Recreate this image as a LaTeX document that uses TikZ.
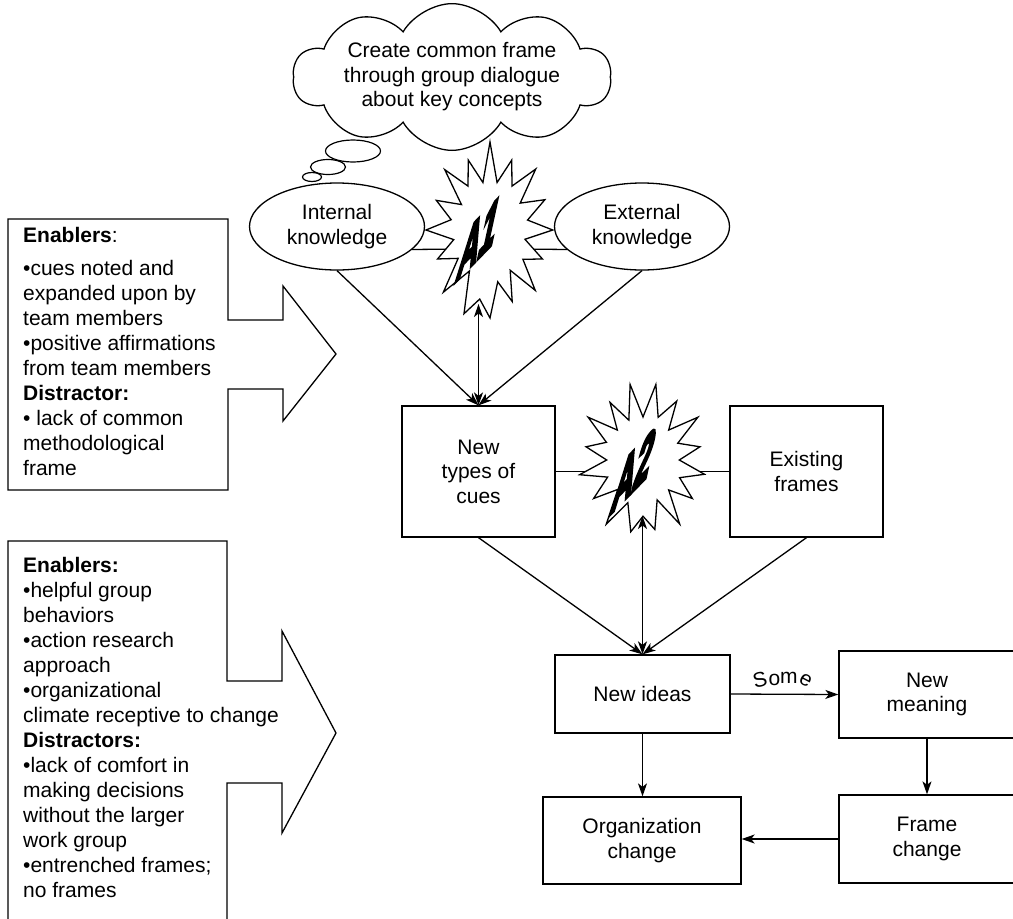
\documentclass[tikz,border=0pt]{standalone}
\usepackage{fontspec}
\usepackage{graphicx}
\setmainfont{Liberation Sans}
\newfontfamily\heavyfont[FakeBold=7]{Liberation Sans}
\usetikzlibrary{shapes.geometric,shapes.symbols,arrows.meta}
\begin{document}
\begin{tikzpicture}[x=1pt,y=-1pt,
  every node/.style={font=\fontsize{21}{24.5}\selectfont},
  box/.style={draw, line width=1.3pt, fill=white, align=center, inner sep=0pt},
  oval/.style={draw, line width=1.3pt, ellipse, fill=white, align=center, minimum width=175pt, minimum height=87pt, inner sep=0pt},
  bubble/.style={draw, line width=1.2pt, ellipse, fill=white, inner sep=0pt},
  line/.style={line width=1.3pt},
  arr/.style={line width=1.3pt, -{Stealth[length=13pt,width=9pt,inset=3.5pt]}},
  darr/.style={line width=1.3pt, {Stealth[length=13pt,width=9pt,inset=3.5pt]}-{Stealth[length=13pt,width=9pt,inset=3.5pt]}},
  burst/.style={draw, line width=1.3pt, fill=white, line join=miter},
  burstlabel/.style={font=\heavyfont\bfseries\fontsize{32}{32}\selectfont, cm={0.92,0.95,0.5,2.3,(0,0)}, inner sep=0pt},
  callout/.style={draw, line width=1.3pt, fill=white},
  calltext/.style={anchor=base west, align=left, inner sep=0pt, font=\fontsize{21}{25}\selectfont}
]
\clip (0,0) rectangle (1013,919);
\fill[white] (0,0) rectangle (1013,919);

% cloud
\node[cloud, draw, line width=1.3pt, fill=white, cloud puffs=10, cloud puff arc=120, cloud ignores aspect, minimum width=318pt, minimum height=143pt, align=center, inner sep=0pt] (cloud) at (452,77) {Create common frame\\through group dialogue\\about key concepts};
\node[bubble, minimum width=55pt, minimum height=22pt] (b1) at (353,151) {};
\node[bubble, minimum width=35pt, minimum height=15pt] (b2) at (328,167) {};
\node[bubble, minimum width=19pt, minimum height=9pt] (b3) at (312,177) {};

% ellipses
\node[oval] (Int) at (337,226.5) {Internal\\knowledge};
\node[oval] (Ext) at (642,226.5) {External\\knowledge};

% boxes
\node[box, minimum width=153pt, minimum height=131pt] (NT) at (478.5,471.5) {New\\types of\\cues};
\node[box, minimum width=153pt, minimum height=131pt] (EF) at (806.5,471.5) {Existing\\frames};
\node[box, minimum width=175pt, minimum height=78pt] (NI) at (642.5,694) {New ideas};
\node[box, minimum width=176pt, minimum height=87pt] (NM) at (927,694.5) {New\\meaning};
\node[box, minimum width=176pt, minimum height=88pt] (FC) at (927,839) {Frame\\change};
\node[box, minimum width=198pt, minimum height=87pt] (OC) at (642,840.5) {Organization\\change};

% connectors partly hidden by the bursts
\coordinate (A1l) at (462,249);
\coordinate (A1r) at (520,249);
\coordinate (A2l) at (610,471.5);
\coordinate (A2r) at (680,471.5);
\draw[line] (Int.-17) -- (A1l);
\draw[line] (A1r) -- (Ext.197);
\draw[line] (NT.east) -- (A2l);
\draw[line] (A2r) -- (EF.west);

\draw[arr] (Int.south) -- (NT.north);
\draw[arr] (Ext.south) -- (NT.north);
\draw[arr] (NT.south) -- (NI.north);
\draw[arr] (EF.south) -- (NI.north);
\draw[arr] (NI.east) -- node[above=5pt, inner sep=0pt, pos=0.48] (some) {\rotatebox[origin=c]{14}{S}\raisebox{1.5pt}{o}\raisebox{3pt}{m}\raisebox{1pt}{\rotatebox[origin=c]{-28}{e}}} (NM.west);
\draw[arr] (NI.south) -- (NI.south |- OC.north);
\draw[arr] (NM.south) -- (FC.north);
\draw[arr] (FC.west) -- (FC.west -| OC.east);

% bursts
\begin{scope}[shift={(490,230)}]
\draw[burst] (90:88pt) \foreach \a/\f [evaluate=\f as \rx using \f*66, evaluate=\f as \ry using \f*88] in
 {101.25/0.55,112.5/0.86,123.75/0.6,135/0.97,146.25/0.52,157.5/0.88,168.75/0.6,180/0.97,
  191.25/0.56,202.5/0.86,213.75/0.58,225/1.0,236.25/0.56,247.5/1.03,258.75/0.8,270/1.0,
  281.25/0.6,292.5/0.88,303.75/0.55,315/0.97,326.25/0.6,337.5/0.86,348.75/0.54,360/0.95,
  371.25/0.58,382.5/0.9,393.75/0.55,405/0.98,416.25/0.6,427.5/0.86,438.75/0.55}
 { -- (\a:\rx pt and \ry pt) } -- cycle;
\end{scope}
\begin{scope}[shift={(643,460)}]
\draw[burst] (90:37pt and 43pt) \foreach \a/\f [evaluate=\f as \rx using \f*66, evaluate=\f as \ry using \f*77] in
 {101.25/1.0,112.5/0.56,123.75/0.9,135/0.55,146.25/1.0,157.5/0.6,168.75/0.88,180/0.55,
  191.25/0.98,202.5/0.58,213.75/0.9,225/0.54,236.25/1.0,247.5/0.6,258.75/0.95,270/0.73,
  281.25/0.92,292.5/0.56,303.75/1.0,315/0.55,326.25/0.9,337.5/0.6,348.75/0.95,360/0.55,
  371.25/0.88,382.5/0.57,393.75/1.0,405/0.55,416.25/0.92,427.5/0.6,438.75/1.0}
 { -- (\a:\rx pt and \ry pt) } -- cycle;
\end{scope}
\node[burstlabel] (A1t) at (479,238) {A1};
\node[burstlabel] (A2t) at (634,470) {A2};

\coordinate (A1b) at (478.5,304);
\coordinate (A2b) at (642.5,516);
\draw[darr] (NT.north) -- (A1b);
\draw[darr] (NI.north) -- (A2b);

% callouts
\draw[callout] (8,219) -- (228,219) -- (228,320) -- (283,320) -- (283,286) -- (336,354) -- (283,421) -- (283,389) -- (228,389) -- (228,490) -- (8,490) -- cycle;
\node[calltext] (c1) at (23,475) {\textbf{Enablers}:\\[8pt]•cues noted and\\expanded upon by\\team members\\•positive affirmations\\from team members\\\textbf{Distractor:}\\• lack of common\\methodological\\frame};

\draw[callout] (8,930) -- (8,541) -- (227,541) -- (227,681) -- (282,681) -- (282,631) -- (336,733) -- (282,833) -- (282,783) -- (227,783) -- (227,930);
\node[calltext] (c2) at (23,897) {\textbf{Enablers:}\\•helpful group\\behaviors\\•action research\\approach\\•organizational\\climate receptive to change\\\textbf{Distractors:}\\•lack of comfort in\\making decisions\\without the larger\\work group\\•entrenched frames;\\no frames};
\end{tikzpicture}
\end{document}
